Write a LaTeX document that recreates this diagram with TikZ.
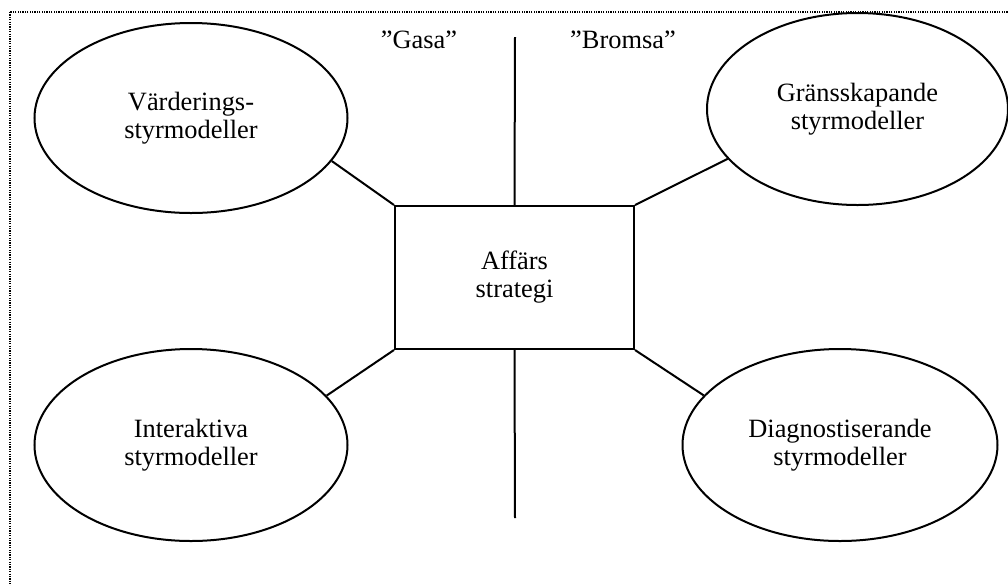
\documentclass[tikz,border=0pt]{standalone}
\usepackage{fontspec}
\setmainfont{Liberation Serif}
\usetikzlibrary{shapes.geometric}
\tikzstyle{model}=[draw,ellipse,line width=1pt,inner sep=0pt,align=center,font=\fontsize{13.2}{14}\selectfont]
\tikzstyle{strategybox}=[draw,rectangle,line width=1pt,inner sep=0pt,minimum width=119.5pt,minimum height=71.5pt,align=center,font=\fontsize{13.2}{14}\selectfont]
\tikzstyle{link}=[line width=1pt]
\tikzstyle{heading}=[inner sep=0pt,font=\fontsize{13.2}{14}\selectfont]

\begin{document}
\begin{tikzpicture}[x=0.5pt,y=-0.5pt]
	\useasboundingbox (0,0) rectangle (1008,585);
	\draw[line width=0.7pt,dash pattern=on 0.6pt off 0.6pt] (10,12) rectangle (1020,600);
	% centre
	\node[strategybox] (strat) at (514.5,277.5) {Affärs\\strategi};
	% four models
	\node[model,minimum width=156.5pt,minimum height=95pt] (vard) at (191,118) {Värderings-\\styrmodeller};
	\node[model,minimum width=150.5pt,minimum height=96pt] (grans) at (857.5,109) {Gränsskapande\\styrmodeller};
	\node[model,minimum width=156.5pt,minimum height=96pt] (inter) at (191,445) {Interaktiva\\styrmodeller};
	\node[model,minimum width=157.5pt,minimum height=96pt] (diag) at (840,445) {Diagnostiserande\\styrmodeller};
	\draw[link] (vard.-17) -- (strat.north west);
	\draw[link] (grans.201) -- (strat.north east);
	\draw[link] (inter.20) -- (strat.south west);
	\draw[link] (diag.160) -- (strat.south east);
	% divider
	\coordinate (divtop) at (515,37);
	\coordinate (divbot) at (515,518);
	\draw[link] (divtop) -- (strat.north);
	\draw[link] (strat.south) -- (divbot);
	\node[heading] (gasa) at (419,40) {”Gasa”};
	\node[heading] (bromsa) at (623,40) {”Bromsa”};
\end{tikzpicture}
\end{document}
